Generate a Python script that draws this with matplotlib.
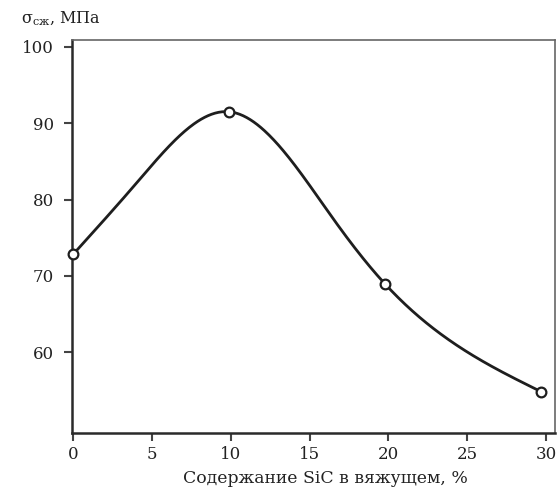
import matplotlib
matplotlib.use('Agg')
import matplotlib.pyplot as plt
import numpy as np

plt.rcParams['font.family'] = ['DejaVu Serif']
plt.rcParams['mathtext.fontset'] = 'dejavuserif'

# measured points
sic = [0, 9.9, 19.8, 29.7]
strength = [72.8, 91.5, 68.9, 54.8]

# points along the drawn trend curve
curve_x = [0, 4.0, 9.9, 16.7, 19.8, 23.3, 29.7]
curve_y = [72.8, 82.1, 91.5, 76.9, 68.9, 62.4, 54.8]

xticks = [0, 5, 10, 15, 20, 25, 30]
yticks = [60, 70, 80, 90, 100]


def natural_spline(xs, ys, n=400):
    # natural cubic spline through the given points
    x = np.asarray(xs, float)
    y = np.asarray(ys, float)
    k = len(x)
    h = np.diff(x)
    A = np.zeros((k, k))
    b = np.zeros(k)
    A[0, 0] = A[-1, -1] = 1
    for i in range(1, k - 1):
        A[i, i - 1] = h[i - 1]
        A[i, i] = 2 * (h[i - 1] + h[i])
        A[i, i + 1] = h[i]
        b[i] = 6 * ((y[i + 1] - y[i]) / h[i] - (y[i] - y[i - 1]) / h[i - 1])
    M = np.linalg.solve(A, b)
    xx = np.linspace(x[0], x[-1], n)
    j = np.clip(np.searchsorted(x, xx) - 1, 0, k - 2)
    a = x[j + 1] - xx
    c = xx - x[j]
    hj = h[j]
    yy = (M[j] * a ** 3 / (6 * hj) + M[j + 1] * c ** 3 / (6 * hj)
          + (y[j] / hj - M[j] * hj / 6) * a + (y[j + 1] / hj - M[j + 1] * hj / 6) * c)
    return xx, yy


fig = plt.figure(figsize=(5.59, 4.90), dpi=100)
ax = fig.add_axes([0.129, 0.1163, 0.864, 0.802])

sx, sy = natural_spline(curve_x, curve_y)
ax.plot(sx, sy, color='#1e1e1e', lw=2.0, zorder=2)
ax.plot(sic, strength, 'o', ms=7, mfc='white', mec='#1e1e1e', mew=1.6,
        zorder=3, clip_on=False)

ax.set_xlim(-0.06, 30.57)
ax.set_ylim(49.4, 100.9)
ax.set_xticks(xticks)
ax.set_yticks(yticks)
ax.tick_params(direction='out', length=6, width=1.5, color='#444444',
               labelsize=12, labelcolor='#222222')
ax.tick_params(axis='x', pad=3)
ax.tick_params(axis='y', pad=7)

for side in ['left', 'bottom']:
    ax.spines[side].set_color('#2a2a2a')
    ax.spines[side].set_linewidth(1.8)
for side in ['top', 'right']:
    ax.spines[side].set_color('#666666')
    ax.spines[side].set_linewidth(1.2)

ax.set_xlabel('Содержание SiC в вяжущем, %', fontsize=12.4, color='#222222')
ax.xaxis.set_label_coords((325 - 72) / 483, -0.095)
fig.text(0.038, 0.962, r'$\mathregular{σ_{сж}}$, МПа', fontsize=11.5,
         color='#222222', ha='left', va='center')

fig.savefig('out.png', dpi=100)
